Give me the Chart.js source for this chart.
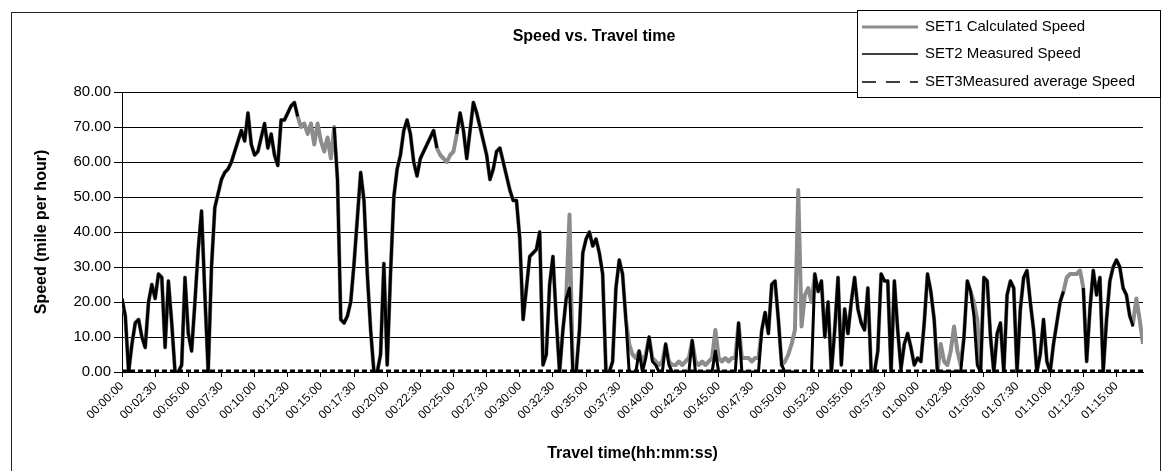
<!DOCTYPE html>
<html>
<head>
<meta charset="utf-8">
<script src="https://cdn.jsdelivr.net/npm/chart.js@4.4.1/dist/chart.umd.min.js"></script>
<style>
  html, body { margin: 0; padding: 0; background: #fff; }
  canvas { display: block; }
</style>
</head>
<body>
<canvas id="speedChart" width="1170" height="471"></canvas>
<script>
const chartTitle = 'Speed vs. Travel time';
const xTitle = 'Travel time(hh:mm:ss)';
const yTitle = 'Speed (mile per hour)';
const seriesNames = ['SET1 Calculated Speed', 'SET2 Measured Speed', 'SET3Measured average Speed'];

// one reading every 15 s from 00:00:00, four values per row = one minute
const sampleSeconds = 15;

const calculatedSpeed = [
  21, 16, 0, 8,     14, 15, 10, 7,    20, 25, 21, 28,   27, 7, 26, 14,    // 0-3
  0, 0, 2, 27,      11, 6, 20, 35,    46, 22, 0, 30,    47, 51, 55, 57,   // 4-7
  58, 60, 63, 66,   69, 66, 74, 65,   62, 63, 67, 71,   64, 68, 62, 59,   // 8-11
  72, 72, 74, 76,   77, 73, 70, 71,   68, 71, 65, 71,   66, 63, 67, 61,   // 12-15
  70, 55, 15, 14,   16, 20, 31, 44,   57, 49, 28, 12,   0, 0, 5, 31,      // 16-19
  2, 28, 50, 58,    62, 69, 72, 68,   60, 56, 61, 63,   65, 67, 69, 64,   // 20-23
  62, 61, 60, 62,   63, 68, 74, 69,   61, 69, 77, 74,   70, 66, 62, 55,   // 24-27
  58, 63, 64, 60,   56, 52, 49, 49,   38, 15, 24, 33,   34, 35, 40, 2,    // 28-31
  5, 25, 33, 15,    0, 12, 21, 45,    0, 0, 12, 34,     38, 40, 36, 38,   // 32-35
  34, 28, 0, 0,     3, 24, 32, 28,    15, 8, 5, 4,      6, 3, 5, 10,      // 36-39
  4, 3, 2, 3,       8, 3, 2, 2,       3, 2, 3, 4,       9, 3, 2, 3,       // 40-43
  2, 3, 4, 12,      4, 3, 4, 3,       4, 4, 14, 4,      4, 4, 3, 4,       // 44-47
  4, 12, 17, 11,    25, 26, 15, 2,    3, 5, 8, 12,      52, 13, 22, 24,   // 48-51
  20, 28, 23, 26,   10, 20, 0, 12,    27, 2, 18, 11,    20, 27, 18, 14,   // 52-55
  12, 24, 0, 0,     6, 28, 26, 26,    0, 26, 12, 1,     8, 11, 7, 2,      // 56-59
  4, 3, 14, 28,     23, 15, 0, 8,     3, 2, 6, 13,      6, 2, 10, 26,     // 60-63
  23, 20, 15, 0,    27, 26, 10, 0,    11, 14, 0, 22,    26, 24, 0, 18,    // 64-67
  27, 29, 20, 12,   0, 5, 15, 3,      0, 8, 14, 20,     23, 27, 28, 28,   // 68-71
  28, 29, 24, 3,    18, 29, 22, 27,   0, 15, 26, 30,    32, 30, 24, 22,   // 72-75
  16, 14, 21, 15,   8                                                       // 76-77
];

const measuredSpeed = [
  21, 16, 0, 8,     14, 15, 10, 7,    20, 25, 21, 28,   27, 7, 26, 14,
  0, 0, 2, 27,      11, 6, 20, 35,    46, 22, 0, 30,    47, 51, 55, 57,
  58, 60, 63, 66,   69, 66, 74, 65,   62, 63, 67, 71,   64, 68, 62, 59,
  72, 72, 74, 76,   77, 73, null, null, null, null, null, null, null, null, null, null,
  70, 55, 15, 14,   16, 20, 31, 44,   57, 49, 28, 12,   0, 0, 5, 31,
  2, 28, 50, 58,    62, 69, 72, 68,   60, 56, 61, 63,   65, 67, 69, 64,
  null, null, null, null, null, 68, 74, 69, 61, 69, 77, 74, 70, 66, 62, 55,
  58, 63, 64, 60,   56, 52, 49, 49,   38, 15, 24, 33,   34, 35, 40, 2,
  5, 25, 33, 15,    0, 12, 21, 24,    0, 0, 12, 34,     38, 40, 36, 38,
  34, 28, 0, 0,     3, 24, 32, 28,    15, 0, 0, 0,      6, 0, 4, 10,
  3, 2, 0, 0,       8, 2, 0, 0,       0, 0, 0, 0,       9, 0, 0, 0,
  0, 0, 0, 6,       0, 0, 0, 0,       0, 0, 14, 0,      0, 0, 0, 0,
  0, 12, 17, 11,    25, 26, 15, 2,    0, 0, 0, 0,       null, null, null, null,
  0, 28, 23, 26,    10, 20, 0, 12,    27, 2, 18, 11,    20, 27, 18, 14,
  12, 24, 0, 0,     6, 28, 26, 26,    0, 26, 12, 1,     8, 11, 7, 2,
  4, 3, 14, 28,     23, 15, 0, 0,     0, 0, 0, 0,       0, 0, 10, 26,
  23, 16, 2, 0,     27, 26, 10, 0,    11, 14, 0, 22,    26, 24, 0, 18,
  27, 29, 20, 12,   0, 5, 15, 3,      0, 8, 14, 20,     23, null, null, null,
  null, null, 24, 3, 18, 29, 22, 27,  0, 15, 26, 30,    32, 30, 24, 22,
  16, 13, null, null, null
];

const averageTimes = ['00:00:00', '01:17:00'];
const averageSpeed = [0.3, 0.3];

function toSeconds(clock) {
  const [h, m, s] = clock.split(':').map(Number);
  return h * 3600 + m * 60 + s;
}

function toClock(sec) {
  const pad = n => String(n).padStart(2, '0');
  return pad(Math.floor(sec / 3600)) + ':' + pad(Math.floor(sec % 3600 / 60)) + ':' + pad(sec % 60);
}

const FONT = "'Liberation Sans', Arial, Helvetica, sans-serif";
Chart.defaults.font.family = FONT;
Chart.defaults.color = '#000';

// frame, title and legend box like the Excel original
const framePlugin = {
  id: 'frame',
  afterDraw(chart) {
    const ctx = chart.ctx;
    ctx.save();
    ctx.strokeStyle = '#222';
    ctx.lineWidth = 1;
    ctx.strokeRect(11.5, 12.5, 1149, 470);

    ctx.fillStyle = '#000';
    ctx.font = 'bold 16px ' + FONT;
    ctx.textAlign = 'center';
    ctx.textBaseline = 'middle';
    ctx.fillText(chartTitle, 594, 37);

    ctx.fillStyle = '#fff';
    ctx.fillRect(857, 10, 303, 87);
    ctx.strokeStyle = '#000';
    ctx.strokeRect(857.5, 10.5, 303, 87);

    const rows = [27, 54, 82];
    chart.data.datasets.forEach((ds, i) => {
      const y = rows[i];
      ctx.strokeStyle = ds.borderColor;
      ctx.lineWidth = i === 0 ? 3 : 1.5;
      ctx.setLineDash(ds.borderDash && ds.borderDash.length ? [14, 10] : []);
      ctx.beginPath();
      ctx.moveTo(862, y);
      ctx.lineTo(918, y);
      ctx.stroke();
      ctx.setLineDash([]);
      ctx.fillStyle = '#000';
      ctx.font = '15px ' + FONT;
      ctx.textAlign = 'left';
      ctx.fillText(ds.label, 925, y);
    });
    ctx.restore();
  }
};

new Chart(document.getElementById('speedChart'), {
  type: 'line',
  data: {
    datasets: [
      {
        label: seriesNames[0],
        data: calculatedSpeed.map((v, i) => ({ x: i * sampleSeconds, y: v })),
        borderColor: '#8c8c8c',
        borderWidth: 4,
        order: 3
      },
      {
        label: seriesNames[1],
        data: measuredSpeed.map((v, i) => ({ x: i * sampleSeconds, y: v })),
        borderColor: '#000',
        borderWidth: 3,
        order: 2
      },
      {
        label: seriesNames[2],
        data: averageTimes.map((t, i) => ({ x: toSeconds(t), y: averageSpeed[i] })),
        borderColor: '#000',
        borderWidth: 3,
        borderDash: [5, 3],
        order: 1
      }
    ]
  },
  options: {
    responsive: false,
    animation: false,
    devicePixelRatio: 1,
    spanGaps: false,
    elements: {
      point: { radius: 0 },
      line: { tension: 0, fill: false, borderJoinStyle: 'round' }
    },
    layout: { padding: { top: 92, left: 28, right: 27, bottom: 4 } },
    plugins: {
      legend: { display: false },
      tooltip: { enabled: false },
      title: { display: false }
    },
    scales: {
      x: {
        type: 'linear',
        min: 0,
        max: 4620,
        grid: { display: true, drawOnChartArea: false, color: '#000', tickLength: 5 },
        border: { color: '#000' },
        ticks: {
          stepSize: 150,
          autoSkip: false,
          includeBounds: false,
          maxRotation: 45,
          minRotation: 45,
          padding: 2,
          font: { size: 12 },
          callback: v => toClock(v)
        },
        afterBuildTicks: s => { s.ticks = s.ticks.filter(t => t.value % 150 === 0); },
        afterFit: s => { s.height = 95; },
        title: {
          display: true,
          text: xTitle,
          font: { size: 16, weight: 'bold' },
          padding: { top: 4, bottom: 4 }
        }
      },
      y: {
        min: 0,
        max: 80,
        grid: { color: '#000', tickLength: 8 },
        border: { color: '#000' },
        ticks: {
          stepSize: 10,
          padding: 3,
          font: { size: 15 },
          callback: v => v.toFixed(2)
        },
        afterFit: s => { s.width = 94; },
        title: {
          display: true,
          text: yTitle,
          font: { size: 16, weight: 'bold' },
          padding: { top: 4, bottom: 4 }
        }
      }
    }
  },
  plugins: [framePlugin]
});
</script>
</body>
</html>
